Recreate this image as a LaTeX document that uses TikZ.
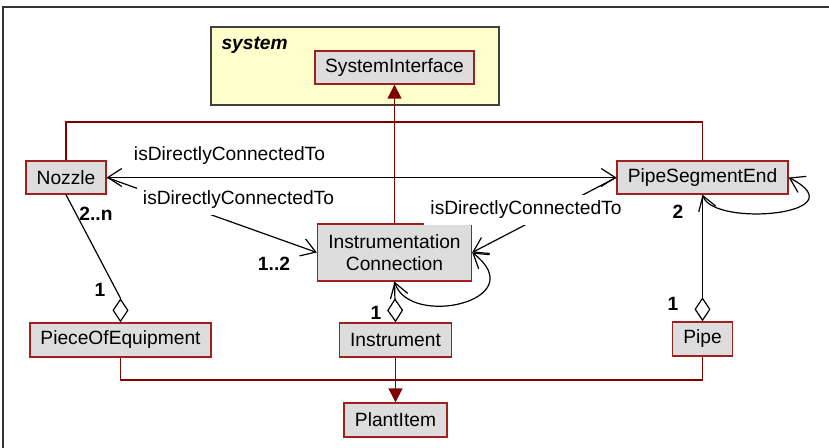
\documentclass[tikz,border=0pt]{standalone}
\usepackage{fontspec}
\setmainfont{Liberation Sans}
\usetikzlibrary{arrows.meta}
\definecolor{umlred}{RGB}{128,0,0}
\definecolor{boxred}{RGB}{160,32,32}
\definecolor{boxgray}{RGB}{221,221,221}
\definecolor{pkgyellow}{RGB}{255,255,204}
\begin{document}
\begin{tikzpicture}[x=0.5pt,y=-0.5pt,line width=.5pt,
  font=\fontsize{9.6}{10.8}\selectfont,
  classbox/.style={draw=boxred,fill=boxgray,line width=.7pt,inner sep=2pt,align=center,minimum height=16.5pt},
  genline/.style={draw=umlred,line width=.75pt},
  genarrow/.style={genline,-{Triangle[length=7pt,width=7pt]}},
  assoc/.style={draw=black,line width=.6pt},
  navarrow/.style={assoc,-{Straight Barb[length=7pt,width=9pt]}},
  bothways/.style={assoc,{Straight Barb[length=7pt,width=9pt]}-{Straight Barb[length=7pt,width=9pt]}},
  aggline/.style={assoc,{Diamond[open,length=12pt,width=8pt]}-},
  relname/.style={fill=white,inner sep=3pt},
  mult/.style={font=\fontsize{9.6}{10.8}\selectfont\bfseries,inner sep=0pt}]
\path[use as bounding box] (0,0) rectangle (829,448);
\draw[black!80,line width=.6pt] (3,448) -- (3,7) -- (829,7);
\node[draw=black!75,fill=pkgyellow,line width=.75pt,minimum width=144pt,minimum height=39pt,inner sep=0pt] (pkg) at (355,66) {};
\node[anchor=west,inner sep=0pt,font=\fontsize{9.6}{10.8}\selectfont\bfseries\itshape] (pkgname) at (221,45) {system};
\node[classbox,minimum width=79.5pt] (sysif) at (394.5,67.5) {SystemInterface};
\node[classbox,minimum width=40pt] (nozzle) at (66,177.5) {Nozzle};
\node[classbox,minimum width=85.5pt] (pse) at (702.5,177.5) {PipeSegmentEnd};
\node[classbox,minimum width=77pt,minimum height=28.5pt] (ic) at (394.5,252.5) {Instrumentation\\Connection};
\node[classbox,minimum width=90.5pt,minimum height=17pt] (poe) at (120.5,340) {PieceOfEquipment};
\node[classbox,minimum width=56pt,minimum height=17pt] (instr) at (395.5,340) {Instrument};
\node[classbox,minimum width=30pt,minimum height=17pt] (pipe) at (702.5,339) {Pipe};
\node[classbox,minimum width=51.5pt,minimum height=17pt] (plant) at (395.5,420) {PlantItem};
\coordinate (topjoin) at (394.5,122);
\coordinate (botjoin) at (395.5,380);
\draw[genline] (nozzle.north) |- (topjoin) -| (pse.north);
\draw[genarrow] (ic.north) -- (sysif.south);
\draw[genline] (poe.south) |- (botjoin) -| (pipe.south);
\draw[genarrow] (instr.south) -- (plant.north);
\draw[bothways] (nozzle.east) -- (pse.west);
\draw[navarrow] (nozzle.east) -- (ic.west);
\draw[navarrow] (pse.west) -- (ic.east);
\draw[bothways] (ic.south) .. controls +(15,47) and +(62,48) .. (ic.east);
\draw[bothways] (pse.south) .. controls +(11,33) and +(72,37) .. (pse.east);
\draw[aggline] (poe.north) -- ++(0,-24) -- (nozzle.south);
\draw[aggline] (instr.north) -- (ic.south);
\draw[aggline] (pipe.north) -- (pse.south);
\node[relname] (rel1) at (229.5,156) {isDirectlyConnectedTo};
\node[relname] (rel2) at (238.5,200) {isDirectlyConnectedTo};
\node[relname] (rel3) at (526,210) {isDirectlyConnectedTo};
\node[mult] (m2n) at (96,214) {2..n};
\node[mult] (m12) at (274,264) {1..2};
\node[mult] (m1poe) at (100,290) {1};
\node[mult] (m1ins) at (376,313) {1};
\node[mult] (m1pipe) at (673,304) {1};
\node[mult] (m2pse) at (678,212) {2};
\end{tikzpicture}
\end{document}
